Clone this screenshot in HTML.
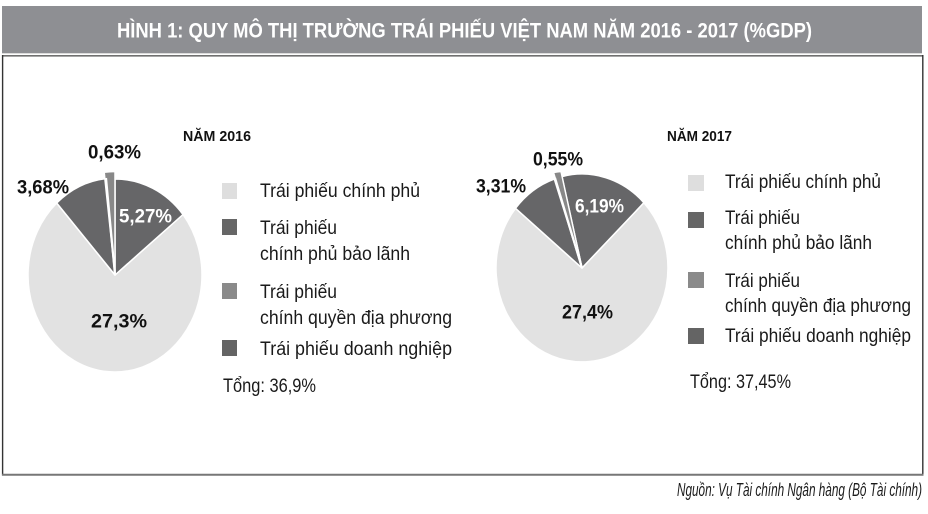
<!DOCTYPE html>
<html>
<head>
<meta charset="utf-8">
<style>
html,body{margin:0;padding:0;background:#fff;}
svg{display:block;}
text{font-family:"Liberation Sans",sans-serif;}
</style>
</head>
<body>
<svg width="928" height="514" viewBox="0 0 928 514" xmlns="http://www.w3.org/2000/svg">
  <!-- header -->
  <rect x="2" y="6" width="920" height="47" fill="#8e8f93"/>
  <line x1="2" y1="53.5" x2="922" y2="53.5" stroke="#dcdcdc" stroke-width="1"/>
  <text x="117" y="37.5" font-size="21" font-weight="bold" fill="#ffffff" textLength="695" lengthAdjust="spacingAndGlyphs">HÌNH 1: QUY MÔ THỊ TRƯỜNG TRÁI PHIẾU VIỆT NAM NĂM 2016 - 2017 (%GDP)</text>

  <!-- box -->
  <line x1="2" y1="55.8" x2="923.5" y2="55.8" stroke="#707070" stroke-width="1.6"/>
  <line x1="2.6" y1="55" x2="2.6" y2="475.5" stroke="#333" stroke-width="1.4"/>
  <line x1="922.8" y1="55" x2="922.8" y2="475.5" stroke="#333" stroke-width="1.4"/>
  <line x1="2" y1="474.8" x2="923.5" y2="474.8" stroke="#777" stroke-width="2"/>

  <!-- ===== 2016 pie ===== -->
  <g stroke="#ffffff" stroke-width="1.5" stroke-linejoin="round">
    <path d="M115,275 L183.0,214.5 A87,97 0 1 1 56.7,203.0 Z" fill="#e2e2e2"/>
    <path d="M115,275 L56.7,203.0 A87,97 0 0 1 105.6,178.6 Z" fill="#666668"/>
    <path d="M115,275 L115,179 A87,96 0 0 1 183.0,214.5 Z" fill="#666668"/>
    <path d="M115,275 L104.2,172.3 A93,103 0 0 1 115,171.5 Z" fill="#888888"/>
  </g>
  <line x1="115" y1="275" x2="106" y2="178" stroke="#fff" stroke-width="2.2"/>

  <text x="88" y="158.5" font-size="19" font-weight="bold" fill="#111" textLength="53" lengthAdjust="spacingAndGlyphs">0,63%</text>
  <text x="17" y="193.5" font-size="19" font-weight="bold" fill="#111" textLength="52" lengthAdjust="spacingAndGlyphs">3,68%</text>
  <text x="119" y="222.5" font-size="19" font-weight="bold" fill="#ffffff" textLength="53" lengthAdjust="spacingAndGlyphs">5,27%</text>
  <text x="91" y="327.5" font-size="19" font-weight="bold" fill="#111" textLength="56" lengthAdjust="spacingAndGlyphs">27,3%</text>

  <!-- 2016 legend -->
  <text x="183" y="141" font-size="15" font-weight="bold" fill="#111" textLength="68" lengthAdjust="spacingAndGlyphs">NĂM 2016</text>
  <rect x="222" y="183" width="15" height="16" fill="#dedede"/>
  <rect x="222" y="219" width="15" height="16" fill="#666666"/>
  <rect x="222" y="283" width="15" height="16" fill="#8a8a8a"/>
  <rect x="222" y="340" width="15" height="16" fill="#646464"/>
  <g font-size="19" fill="#1a1a1a">
    <text x="260" y="197" textLength="160" lengthAdjust="spacingAndGlyphs">Trái phiếu chính phủ</text>
    <text x="260" y="234" textLength="77" lengthAdjust="spacingAndGlyphs">Trái phiếu</text>
    <text x="260" y="260" textLength="150" lengthAdjust="spacingAndGlyphs">chính phủ bảo lãnh</text>
    <text x="260" y="298" textLength="77" lengthAdjust="spacingAndGlyphs">Trái phiếu</text>
    <text x="260" y="324" textLength="192" lengthAdjust="spacingAndGlyphs">chính quyền địa phương</text>
    <text x="260" y="355" textLength="192" lengthAdjust="spacingAndGlyphs">Trái phiếu doanh nghiệp</text>
    <text x="223" y="392" textLength="93" lengthAdjust="spacingAndGlyphs">Tổng: 36,9%</text>
  </g>

  <!-- ===== 2017 pie ===== -->
  <g stroke="#ffffff" stroke-width="1.5" stroke-linejoin="round">
    <path d="M582,268 L643.9,202.7 A86,94 0 1 1 515.5,208.3 Z" fill="#e2e2e2"/>
    <path d="M582,268 L515.5,208.3 A86,94 0 0 1 554.3,179.0 Z" fill="#666668"/>
    <path d="M582,268 L561.9,176.6 A86,94 0 0 1 643.9,202.7 Z" fill="#666668"/>
    <path d="M582,268 L553.5,172.5 A92,100 0 0 1 561,171.5 Z" fill="#888888"/>
  </g>
  <line x1="582" y1="268" x2="555" y2="178" stroke="#fff" stroke-width="2.2"/>

  <text x="533" y="165.5" font-size="19" font-weight="bold" fill="#111" textLength="50" lengthAdjust="spacingAndGlyphs">0,55%</text>
  <text x="476" y="192.5" font-size="19" font-weight="bold" fill="#111" textLength="50" lengthAdjust="spacingAndGlyphs">3,31%</text>
  <text x="575" y="212.5" font-size="19" font-weight="bold" fill="#ffffff" textLength="49" lengthAdjust="spacingAndGlyphs">6,19%</text>
  <text x="562" y="318.5" font-size="19" font-weight="bold" fill="#111" textLength="51" lengthAdjust="spacingAndGlyphs">27,4%</text>

  <!-- 2017 legend -->
  <text x="667" y="141" font-size="15" font-weight="bold" fill="#111" textLength="65" lengthAdjust="spacingAndGlyphs">NĂM 2017</text>
  <rect x="688" y="175" width="16" height="16" fill="#dedede"/>
  <rect x="688" y="212" width="16" height="16" fill="#666666"/>
  <rect x="688" y="272" width="16" height="16" fill="#8a8a8a"/>
  <rect x="688" y="328" width="16" height="16" fill="#646464"/>
  <g font-size="19" fill="#1a1a1a">
    <text x="725" y="188" textLength="156" lengthAdjust="spacingAndGlyphs">Trái phiếu chính phủ</text>
    <text x="725" y="224" textLength="75" lengthAdjust="spacingAndGlyphs">Trái phiếu</text>
    <text x="725" y="249" textLength="147" lengthAdjust="spacingAndGlyphs">chính phủ bảo lãnh</text>
    <text x="725" y="287" textLength="75" lengthAdjust="spacingAndGlyphs">Trái phiếu</text>
    <text x="725" y="312" textLength="186" lengthAdjust="spacingAndGlyphs">chính quyền địa phương</text>
    <text x="725" y="342" textLength="186" lengthAdjust="spacingAndGlyphs">Trái phiếu doanh nghiệp</text>
    <text x="690" y="388" textLength="101" lengthAdjust="spacingAndGlyphs">Tổng: 37,45%</text>
  </g>

  <!-- source -->
  <text x="677" y="496" font-size="18" font-style="italic" fill="#1a1a1a" textLength="245" lengthAdjust="spacingAndGlyphs">Nguồn: Vụ Tài chính Ngân hàng (Bộ Tài chính)</text>
</svg>
</body>
</html>
